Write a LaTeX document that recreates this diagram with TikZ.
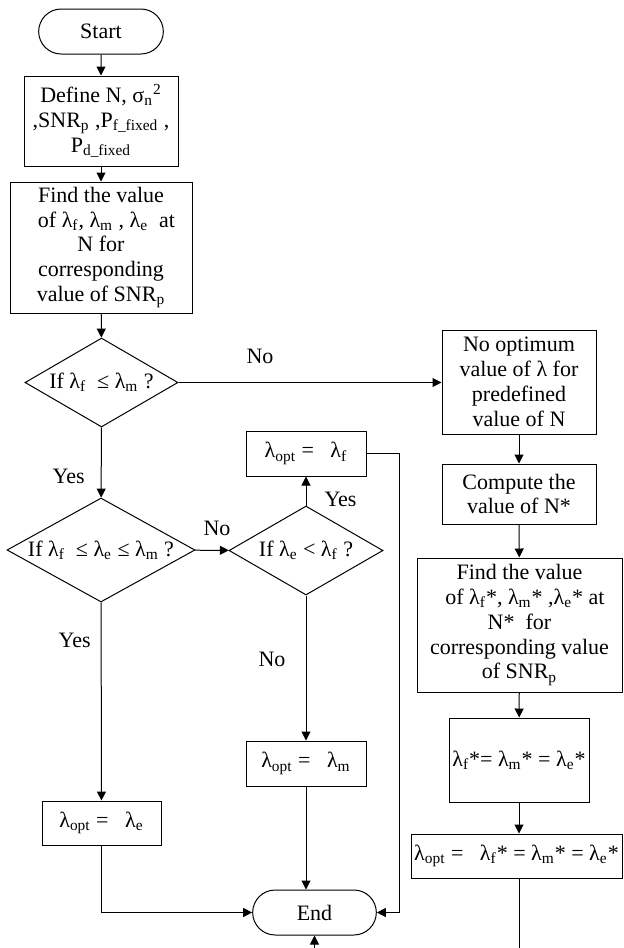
\documentclass[tikz,border=0pt]{standalone}
\usepackage{fontspec}
\setmainfont{Liberation Serif}
\usetikzlibrary{arrows.meta, calc, shapes.geometric, shapes.misc}
\newcommand{\lsb}[1]{\textsubscript{#1}}

\begin{document}
\begin{tikzpicture}[x=0.5pt, y=-0.5pt, font=\fontsize{11}{12.4}\selectfont,
		line width=0.5pt, >={Triangle[length=4.5pt,width=4.5pt]},
		proc/.style={draw, align=center, inner sep=1pt},
		term/.style={draw, rounded rectangle, minimum width=69pt, minimum height=22.5pt},
		test/.style={draw, diamond, aspect=1.75, inner sep=0pt, align=center},
		lbl/.style={inner sep=0pt}]
		\useasboundingbox (0,0) rectangle (623,948);
		\clip (0,0) rectangle (623,948);
		\begin{scope}
			\node[term] (start) at (101,31.5) {Start};
			\node[proc, minimum width=77pt, minimum height=45pt] (define) at (101,121)
				{Define N, σ\lsb{n}\textsuperscript{2}\\,SNR\lsb{p} ,P\lsb{f\_fixed} ,\\P\lsb{d\_fixed}};
			\node[proc, minimum width=91pt, minimum height=65.5pt] (find) at (101,247.5)
				{Find the value\\\ \ of λ\lsb{f}, λ\lsb{m} , λ\lsb{e} \ at\\N for\\corresponding\\value of SNR\lsb{p}};
			\node[test, minimum width=76.5pt, minimum height=44.5pt] (d1) at (101.5,382.5)
				{If λ\lsb{f} \ ≤ λ\lsb{m} ?};
			\node[test, minimum width=94pt, minimum height=52pt] (d2) at (101,550)
				{If λ\lsb{f} \ ≤ λ\lsb{e} ≤ λ\lsb{m} ?};
			\node[test, minimum width=77pt, minimum height=44.5pt] (d3) at (306,550.5)
				{If λ\lsb{e} < λ\lsb{f} ?};
			\node[proc, minimum width=60pt, minimum height=22.5pt] (optf) at (306,453.5)
				{λ\lsb{opt} = \ \ λ\lsb{f}};
			\node[proc, minimum width=60pt, minimum height=22.5pt] (optm) at (306,763.5)
				{λ\lsb{opt} = \ \ λ\lsb{m}};
			\node[proc, minimum width=59.5pt, minimum height=22pt] (opte) at (101.5,823)
				{λ\lsb{opt} = \ \ λ\lsb{e}};
			\node[term, minimum width=68.5pt] (end) at (314.5,912.5) {End};
		\end{scope}
		\begin{scope}
			\node[proc, minimum width=77pt, minimum height=52pt] (noopt) at (519,382)
				{No optimum\\value of λ for\\predefined\\value of N};
			\node[proc, minimum width=77pt, minimum height=30pt] (compute) at (519,494)
				{Compute the\\value of N*};
			\node[proc, minimum width=102.5pt, minimum height=67pt] (findstar) at (519.5,625)
				{Find the value\\\ \ of λ\lsb{f}*, λ\lsb{m}* ,λ\lsb{e}* at\\N* \ for\\corresponding value\\of SNR\lsb{p}};
			\node[proc, minimum width=70pt, minimum height=42pt] (lamstar) at (519,760)
				{λ\lsb{f}*= λ\lsb{m}* = λ\lsb{e}*};
			\node[proc, minimum width=105.5pt, minimum height=22pt, inner sep=0pt] (optstar) at (516.5,856)
				{λ\lsb{opt} = \ \ λ\lsb{f}* = λ\lsb{m}* = λ\lsb{e}*};
		\end{scope}
		\coordinate (rail) at (399,0);
		\coordinate (sink) at (0,975);
		\draw[->] (start) -- (define);
		\draw[->] (define) -- (find);
		\draw[->] (find) -- (d1);
		\draw[->] (d1.east) -- node[lbl, pos=0.31, above=9pt] {No} (d1.east -| noopt.west);
		\draw[->] (d1) -- node[lbl, pos=0.7, left=8pt] {Yes} (d2);
		\draw[->] (d2) -- node[lbl, pos=0.65, above=7pt] {No} (d3);
		\draw[->] (d3) -- node[lbl, pos=0.2, right=9pt] {Yes} (optf);
		\draw[->] (d3) -- node[lbl, pos=0.44, left=10pt] {No} (optm);
		\draw[->] (d2) -- node[lbl, pos=0.19, left=5pt] {Yes} (opte);
		\draw[->] (opte) |- (end);
		\draw[->] (optm) -- (optm |- end.north);
		\draw[->] (optf) -- (optf -| rail) |- (end);
		\draw[->] (noopt) -- (compute);
		\draw[->] (compute) -- (findstar);
		\draw[->] (findstar) -- (lamstar);
		\draw[->] (lamstar) -- (lamstar |- optstar.north);
		\draw[->] (optstar.south -| lamstar) -- (lamstar |- sink) -| (end);
\end{tikzpicture}
\end{document}
